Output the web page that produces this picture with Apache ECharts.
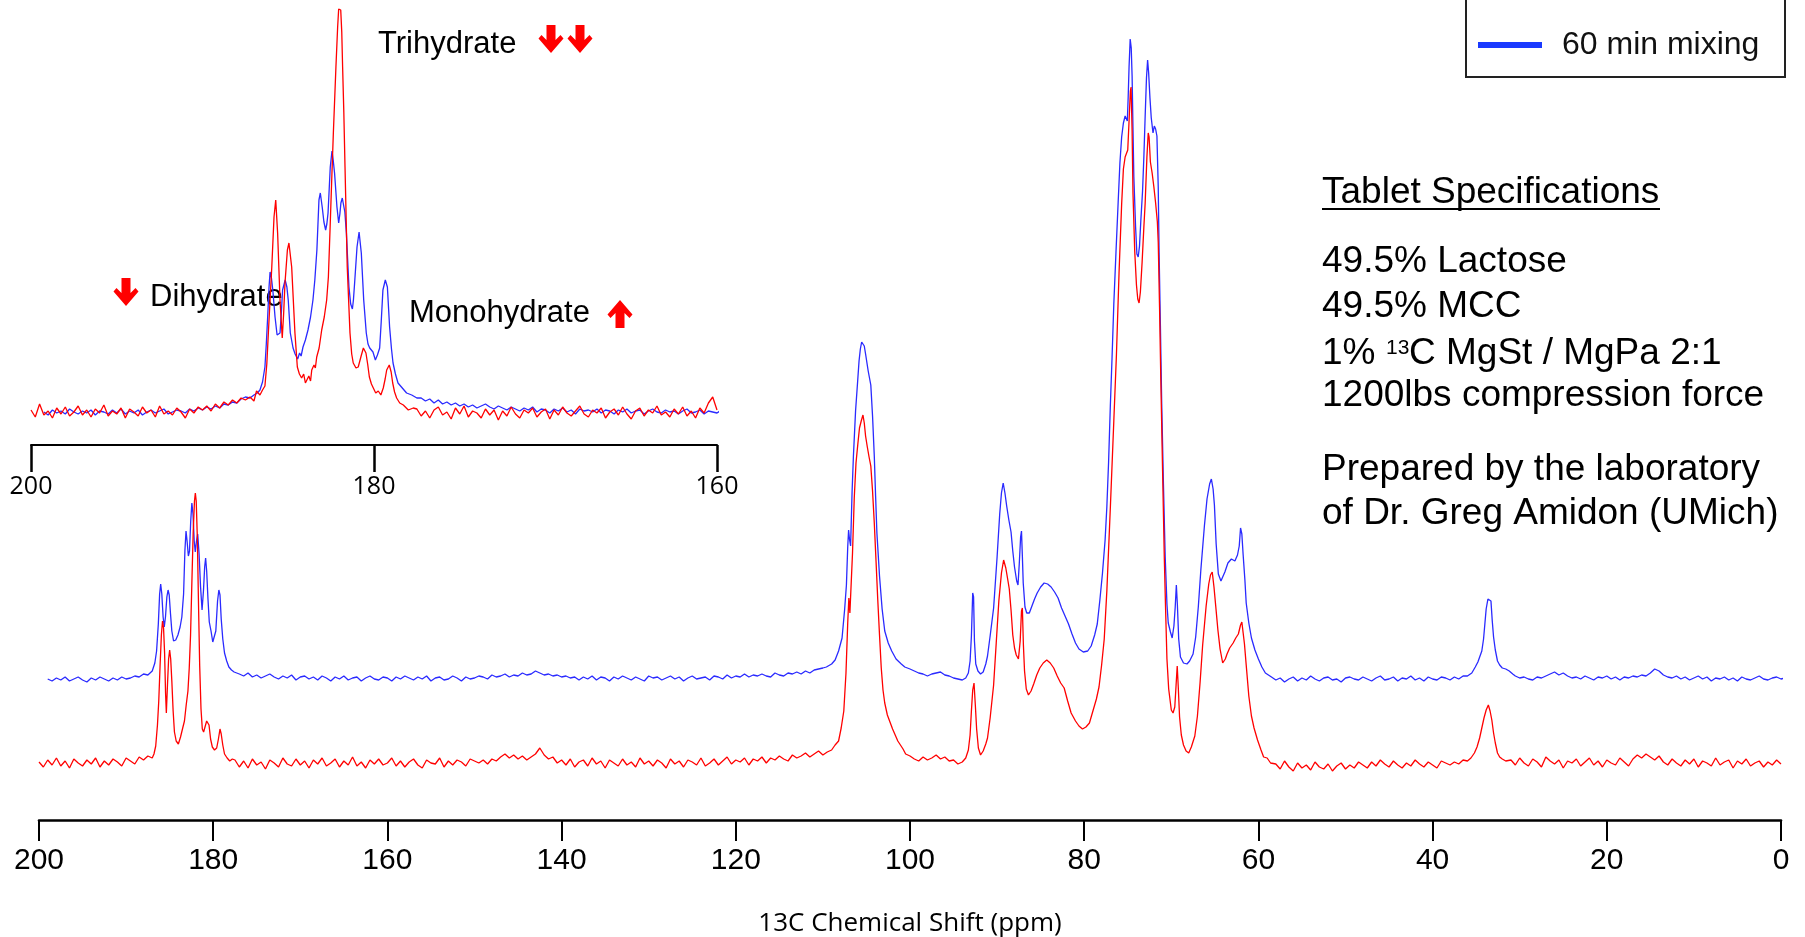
<!DOCTYPE html>
<html>
<head>
<meta charset="utf-8">
<title>13C CPMAS spectra of lactose / MCC tablets</title>
<script src="https://cdn.jsdelivr.net/npm/echarts@6.0.0/dist/echarts.min.js"></script>
<style>
  html, body { margin: 0; padding: 0; background: #ffffff; }
  #chart { width: 1805px; height: 937px; }
</style>
</head>
<body>
<div id="chart"></div>
<script>
// ---------------------------------------------------------------
// Spectrum data. Explicit arrays are [ppm, intensity] pairs;
// "Base" arrays are evenly sampled stretches (start ppm, step) of
// baseline, listed as intensities only.
// ---------------------------------------------------------------

// x-axis tick values (ppm)
const mainTicks = [200, 180, 160, 140, 120, 100, 80, 60, 40, 20, 0];
const insetTicks = [200, 180, 160];

// ---- full spectrum, 0 min (red) ----
const redBaseA = [1,-4,3,-2,5,-3,2,-5,4,0,-3,3,-1,5,-4,2,-2,4,1,-3,5,2,-1,6,3,7,5]; // 200.0 -> 187.0
const redPeakA = [[186.8,9],[186.6,17],[186.4,38],[186.25,62],[186.1,97],[185.95,128],[185.82,142],[185.7,135],[185.58,110],[185.47,70],[185.38,50],[185.25,78],[185.12,104],[185.0,113],[184.88,104],[184.75,82],[184.6,52],[184.45,31],[184.25,22],[184.0,19],[183.75,26],[183.5,35],[183.3,42],[183.1,58],[182.9,72],[182.75,95],[182.6,128],[182.45,180],[182.3,230],[182.15,262],[182.05,270],[181.95,262],[181.82,225],[181.7,165],[181.55,97],[181.4,54],[181.25,34],[181.1,31],[180.9,33],[180.75,42],[180.62,44],[180.48,38],[180.3,24],[180.1,16],[179.85,13],[179.6,15],[179.4,24],[179.22,34],[179.08,29],[178.9,18],[178.7,9],[178.4,5],[178.1,2],[177.8,4]];
const redBaseB = [3,-4,2,-5,4,-2,1,-6,3,0,-4,5,-1,-3,4,-2,
  2,-5,3,-1,5,-3,0,4,-4,2,-2,6,-3,1,-5,3,-1,4,-2,0,
  5,-3,2,-4,1,4,-2,-5,3,0,-1,5,-4,2,-2,3,1,-3,4,2,
  0,3,-1,4,2,6,9,5,8,4,7,3,6,9,15,8,4,6,0,3,
  -2,4,-4,1,3,-3,5,-1,2,-5,3,0,-3,4,-2,1,-4,5,-1,2,
  -3,3,0,-5,4,-1,2,-4,3,1,-2,5,-3,0,4,-2,2,6,-1,3,
  1,5,-2,4,2,6,0,5,3,7,4,2,8,5,7,10,6,9,12,8,
  11,13]; // 177.5 -> 109.0
const redPeakB = [[108.6,18],[108.2,22],[107.9,35],[107.6,52],[107.35,90],[107.15,140],[107.02,165],[106.9,150],[106.78,148],[106.6,210],[106.4,265],[106.2,300],[106.0,318],[105.8,335],[105.6,342],[105.4,348],[105.25,340],[105.1,327],[104.9,316],[104.7,306],[104.5,297],[104.3,272],[104.1,240],[103.9,202],[103.7,163],[103.5,128],[103.3,95],[103.1,73],[102.9,60],[102.6,48],[102.3,41],[102.0,34],[101.7,28],[101.4,22],[101.1,18],[100.8,14],[100.5,9]];
const redBaseC = [7,4,2,6,3,5,8,4,6,2,3,-1,1]; // 100.0 -> 94.0
const redPeakC = [[93.6,5],[93.3,13],[93.1,28],[92.95,52],[92.8,73],[92.65,80],[92.5,58],[92.35,34],[92.15,15],[91.9,8],[91.6,12],[91.3,19],[91.1,25],[90.8,45],[90.4,78],[90.1,120],[89.8,162],[89.5,190],[89.25,203],[89.0,195],[88.75,182],[88.6,174],[88.4,153],[88.2,128],[88.0,115],[87.8,108],[87.55,104],[87.35,122],[87.2,152],[87.1,155],[86.98,118],[86.85,92],[86.65,74],[86.4,68],[86.1,72],[85.8,79],[85.45,88],[85.1,95],[84.7,100],[84.3,103],[83.9,100],[83.5,95],[83.1,87],[82.7,80],[82.3,75],[81.9,62],[81.5,50],[81.0,42],[80.6,37],[80.2,34],[79.8,36],[79.4,40],[79.0,52],[78.6,64],[78.3,76],[78.0,98],[77.7,124],[77.4,172],[77.0,255],[76.6,342],[76.3,408],[76.0,490],[75.7,559],[75.5,594],[75.3,606],[75.15,608],[75.0,613],[74.85,642],[74.7,672],[74.62,676],[74.5,632],[74.4,570],[74.2,512],[74.0,478],[73.85,464],[73.7,460],[73.55,471],[73.35,501],[73.15,536],[73.0,560],[72.8,606],[72.65,630],[72.55,626],[72.4,601],[72.2,590],[72.0,576],[71.8,560],[71.6,541],[71.5,521],[71.35,456],[71.2,382],[71.0,292],[70.8,204],[70.65,152],[70.5,104],[70.3,74],[70.0,53],[69.8,50],[69.6,56],[69.45,78],[69.32,97],[69.2,76],[69.05,46],[68.85,28],[68.6,18],[68.3,12],[68.0,10],[67.7,16],[67.3,27],[67.0,47],[66.7,80],[66.4,118],[66.0,157],[65.7,179],[65.5,188],[65.3,191],[65.1,176],[64.9,157],[64.65,133],[64.4,114],[64.1,100],[63.8,104],[63.6,109],[63.3,115],[62.9,120],[62.6,125],[62.3,129],[62.05,138],[61.9,141],[61.75,130],[61.6,119],[61.4,98],[61.1,67],[60.8,47],[60.5,35],[60.1,23],[59.7,13],[59.4,6],[59.0,5],[58.6,0]];
const redBaseD = [-1,-6,2,-4,-8,0,-5,-2,-7,1,-4,-6,-1,-8,-3,0,-6,-2,-5,1,
  -2,-5,1,-3,3,-1,-4,2,-2,-5,0,-3,3,-1,-4,1,-2,-5,2,0,
  -2,1,-1,3,2]; // 58.0 -> 36.0
const redPeakD = [[35.6,5],[35.2,10],[34.9,16],[34.6,25],[34.4,33],[34.1,45],[33.85,53],[33.6,58],[33.4,52],[33.2,43],[33.0,30],[32.8,20],[32.55,10],[32.3,6],[32.0,4],[31.6,2]];
const redBaseE = [3,-2,5,0,-3,4,1,-4,6,2,-1,3,-5,2,0,4,-3,1,5,-2,
  2,-4,3,0,-2,5,1,-3,4,8,5,9,6,3,7,1,-2,4,0,-3,
  3,-1,4,-4,2,0,-3,5,-2,1,3,-5,2,-1,4,-3,0,2,-4,1,
  -2,3,-1]; // 31.0 -> 0.0

// ---- full spectrum, 60 min mixing (blue), relative to its own baseline ----
const blueBaseA = [0,-2,1,-1,2,-2,0,2,-1,-3,1,-1,2,0,-2,1,-1,2,0,1,3,2,5,4,8]; // 199.0 -> 187.0
const bluePeakA = [[186.7,16],[186.5,28],[186.3,55],[186.15,85],[186.03,95],[185.9,85],[185.75,62],[185.62,52],[185.48,62],[185.32,82],[185.18,89],[185.05,84],[184.9,65],[184.75,48],[184.55,38],[184.3,39],[184.05,44],[183.8,52],[183.6,62],[183.4,85],[183.25,128],[183.12,148],[183.0,138],[182.85,123],[182.72,128],[182.58,158],[182.45,176],[182.32,165],[182.18,138],[182.06,127],[181.92,138],[181.78,145],[181.62,125],[181.45,92],[181.28,69],[181.12,88],[180.98,112],[180.87,121],[180.75,108],[180.6,80],[180.45,57],[180.25,48],[180.05,37],[179.9,35],[179.7,48],[179.5,78],[179.35,89],[179.22,84],[179.08,60],[178.9,40],[178.7,26],[178.45,18],[178.2,12],[177.9,9],[177.6,7]];
const blueBaseB = [5,3,6,2,4,1,3,5,2,0,3,1,4,-1,2,3,0,2,-1,3,
  1,-2,2,0,3,-1,1,2,-2,1,3,0,-1,2,1,-2,2,0,3,1,
  -1,2,0,3,-2,1,2,-1,0,3,1,-2,2,0,1,3,2,0,4,2,
  3,5,2,4,3,6,4,5,8,6,4,5,3,4,2,3,1,2,-1,2,
  0,3,-1,2,1,-2,2,0,3,1,-1,2,0,-2,3,1,2,-1,1,3,
  0,2,-2,1,3,0,1,2,-1,3,2,0,4,1,3,2,5,2,4,3,
  5,3,2,6,4,3,6,5,7,5,8,6,9,10,11]; // 177.0 -> 110.0
const bluePeakB = [[109.6,12],[109.0,15],[108.6,19],[108.2,28],[107.8,41],[107.5,70],[107.3,94],[107.15,132],[107.05,149],[106.95,140],[106.82,133],[106.65,187],[106.5,222],[106.25,268],[106.0,299],[105.85,318],[105.7,330],[105.55,337],[105.4,339],[105.25,333],[105.1,325],[104.8,308],[104.5,294],[104.3,263],[104.1,223],[103.95,183],[103.8,146],[103.5,103],[103.2,70],[102.9,48],[102.5,36],[102.1,28],[101.6,20],[101.0,15],[100.6,12]];
const blueBaseC = [10,8,6,5,3,5,6,7,4,3,1,0,-1]; // 100.0 -> 94.0
const bluePeakC = [[93.6,1],[93.3,6],[93.1,18],[92.95,43],[92.8,86],[92.7,82],[92.6,38],[92.45,15],[92.2,8],[91.9,5],[91.6,7],[91.3,15],[91.1,23],[90.8,43],[90.4,71],[90.0,122],[89.7,165],[89.5,186],[89.3,196],[89.1,186],[88.9,173],[88.65,159],[88.4,147],[88.2,128],[88.0,112],[87.75,98],[87.6,94],[87.45,116],[87.3,142],[87.2,148],[87.1,123],[87.0,96],[86.8,72],[86.6,66],[86.3,66],[86.0,73],[85.7,80],[85.4,86],[85.0,92],[84.6,96],[84.2,95],[83.8,92],[83.4,87],[83.0,81],[82.6,71],[82.2,63],[81.8,55],[81.4,45],[81.0,36],[80.6,30],[80.1,27],[79.6,28],[79.2,33],[78.8,44],[78.5,55],[78.2,79],[77.9,106],[77.6,139],[77.4,172],[77.2,217],[77.0,273],[76.8,322],[76.6,375],[76.35,427],[76.1,477],[75.9,516],[75.7,542],[75.5,556],[75.3,563],[75.15,561],[75.05,558],[74.95,582],[74.85,612],[74.72,640],[74.6,631],[74.5,603],[74.4,551],[74.3,502],[74.1,452],[73.95,425],[73.8,422],[73.65,433],[73.5,458],[73.3,488],[73.15,522],[73.0,563],[72.85,601],[72.72,619],[72.6,606],[72.45,581],[72.3,561],[72.1,546],[71.95,553],[71.8,550],[71.65,543],[71.5,492],[71.4,426],[71.25,353],[71.1,275],[70.9,194],[70.7,122],[70.5,75],[70.35,56],[70.1,47],[69.9,41],[69.7,53],[69.55,72],[69.42,94],[69.3,74],[69.15,40],[68.95,22],[68.6,16],[68.2,15],[67.9,18],[67.5,25],[67.2,42],[66.9,72],[66.6,110],[66.2,153],[65.9,180],[65.6,195],[65.4,200],[65.2,190],[65.05,174],[64.85,135],[64.6,105],[64.3,98],[64.05,103],[63.85,107],[63.5,116],[63.1,120],[62.7,118],[62.4,124],[62.2,133],[62.05,151],[61.9,145],[61.75,124],[61.55,99],[61.4,76],[61.1,56],[60.8,41],[60.4,29],[60.0,20],[59.6,12],[59.2,6]];
const blueBaseD = [2,-1,1,-3,0,2,-2,1,-1,3,0,-2,1,2,-1,0,-3,1,2,0,
  -1,2,0,-2,1,3,-1,0,2,-2,1,0,3,-1,1,-2,2,0,-1,2,
  1,-1,2,0,3,3]; // 58.5 -> 36.0
const bluePeakD = [[35.5,6],[35.1,12],[34.8,17],[34.6,19],[34.35,28],[34.15,40],[34.0,55],[33.85,70],[33.65,80],[33.45,80],[33.3,78],[33.15,58],[33.0,42],[32.8,29],[32.55,18],[32.3,14],[32.0,11],[31.6,10],[31.2,8],[30.8,5]];
const blueBaseE = [3,1,2,0,-1,2,1,3,5,7,4,6,3,1,2,0,3,1,-1,2,
  1,3,0,2,-1,2,1,3,2,4,3,6,10,8,4,2,1,3,0,2,
  -1,1,3,0,2,-2,1,0,2,-1,1,-2,2,0,-1,1,3,0,-1,1,
  2,0,1,2]; // 30.5 -> -1.0

// ---- expanded carbonyl region 200-160 ppm (inset) ----
const insetRedBaseA = [2,-5,8,-3,1,-6,4,-2,5,-4,0,6,-3,2,-5,3,-1,7,-4,1,
  -2,4,-6,3,0,-4,5,-1,2,-5,6,-2,1,-3,4,0,-6,3,-1,5,
  2,6,1,8,4,10,7,12,9,14,12]; // 200.0 -> 187.5
const insetRedPeaks = [[187.23,15],[187.0,11],[186.85,21],[186.65,17],[186.5,22],[186.36,26],[186.25,48],[186.16,79],[186.06,112],[185.96,145],[185.83,195],[185.73,212],[185.62,179],[185.48,112],[185.35,74],[185.27,98],[185.19,129],[185.05,162],[184.96,169],[184.8,145],[184.61,79],[184.47,45],[184.35,38],[184.22,34],[184.1,38],[184.0,29],[183.92,31],[183.8,36],[183.7,31],[183.63,42],[183.5,47],[183.42,44],[183.34,55],[183.2,64],[183.05,82],[182.9,95],[182.76,112],[182.66,135],[182.57,179],[182.47,230],[182.37,279],[182.22,345],[182.12,385],[182.06,403],[181.94,402],[181.88,380],[181.83,345],[181.76,300],[181.69,245],[181.56,145],[181.4,79],[181.3,58],[181.21,49],[181.05,44],[180.92,45],[180.75,56],[180.62,64],[180.47,59],[180.37,48],[180.27,35],[180.15,28],[180.04,24],[179.9,19],[179.75,21],[179.6,17],[179.46,24],[179.35,33],[179.26,42],[179.11,47],[179.0,40],[178.91,29],[178.8,20],[178.68,14],[178.5,9],[178.29,7],[178.0,2],[177.71,4]];
const insetRedBaseB = [3,-4,1,-6,2,5,-3,0,-7,4,-2,6,-5,1,-1,-6,3,-3,2,-8,
  1,-4,5,-2,-6,2,-1,4,-5,0,3,-7,2,-3,5,-1,-4,1,6,-2,
  -5,2,-1,4,-6,0,3,-3,5,-2,-7,1,4,-4,2,-1,6,-3,0,-5,
  3,-2,5,-4,1,-6,4,-1,9,15,2]; // 177.5 -> 160.0
const insetBlueBaseA = [0,-3,2,-1,1,-2,3,0,-2,1,-1,2,-3,1,0,-2,2,-1,3,-2,
  1,-1,2,-3,0,2,-1,1,3,-2,0,2,1,-1,3,1,4,2,5,3,
  6,4,8,7,10,9,13,15]; // 199.25 -> 187.5
const insetBluePeaks = [[187.23,14],[187.0,17],[186.8,19],[186.65,22],[186.5,30],[186.36,45],[186.28,68],[186.2,95],[186.12,125],[186.06,140],[185.98,134],[185.9,122],[185.77,95],[185.65,77],[185.55,76],[185.48,79],[185.4,100],[185.33,122],[185.18,132],[185.08,125],[185.0,112],[184.88,79],[184.72,64],[184.6,58],[184.53,57],[184.45,53],[184.34,59],[184.25,56],[184.14,65],[184.0,72],[183.85,82],[183.7,95],[183.56,112],[183.45,132],[183.33,162],[183.21,212],[183.13,219],[183.02,205],[182.92,190],[182.82,182],[182.75,188],[182.68,199],[182.55,245],[182.45,261],[182.38,252],[182.3,239],[182.16,205],[182.06,189],[181.99,198],[181.93,209],[181.85,214],[181.77,215],[181.7,200],[181.61,179],[181.46,125],[181.36,108],[181.26,103],[181.2,112],[181.13,129],[180.99,165],[180.87,180],[180.74,159],[180.6,112],[180.45,79],[180.35,68],[180.25,64],[180.06,60],[179.92,52],[179.8,57],[179.67,64],[179.58,90],[179.48,122],[179.34,132],[179.22,125],[179.09,85],[178.98,63],[178.89,49],[178.75,38],[178.6,29],[178.35,24],[178.1,19],[177.8,17],[177.5,14]];
const insetBlueBaseB = [14,11,13,9,12,8,10,7,9,6,8,5,7,4,6,8,5,3,6,4,
  2,5,3,1,4,2,5,0,3,2,-1,3,1,4,0,2,-2,3,1,2,
  0,3,-1,2,1,-2,2,0,3,-1,1,2,-2,1,3,0,-1,2,0,1,
  -2,1,3,-1,0,2,-2,1,0,-1,2,-1]; // 177.25 -> 159.5

// vertical stacking of the 60 min trace above the 0 min trace
const BLUE_OFFSET = 84;

// ---------------------------------------------------------------
function sampled(start, step, values) {
  return values.map(function (v, i) {
    return [Math.round((start - i * step) * 100) / 100, v];
  });
}

const redMain = [].concat(
  sampled(200.0, 0.5, redBaseA), redPeakA,
  sampled(177.5, 0.5, redBaseB), redPeakB,
  sampled(100.0, 0.5, redBaseC), redPeakC,
  sampled(58.0, 0.5, redBaseD), redPeakD,
  sampled(31.0, 0.5, redBaseE)
);
const blueMain = [].concat(
  sampled(199.0, 0.5, blueBaseA), bluePeakA,
  sampled(177.0, 0.5, blueBaseB), bluePeakB,
  sampled(100.0, 0.5, blueBaseC), bluePeakC,
  sampled(58.5, 0.5, blueBaseD), bluePeakD,
  sampled(30.5, 0.5, blueBaseE)
).map(function (p) { return [p[0], p[1] + BLUE_OFFSET]; });

const redInset = [].concat(
  sampled(200.0, 0.25, insetRedBaseA), insetRedPeaks, sampled(177.5, 0.25, insetRedBaseB)
);
const blueInset = [].concat(
  sampled(199.25, 0.25, insetBlueBaseA), insetBluePeaks, sampled(177.25, 0.25, insetBlueBaseB)
);

// ---------------------------------------------------------------
const RED = '#ff0000';
const BLUE = '#2a2aff';
const SANS = '"Liberation Sans", Arial, Helvetica, sans-serif';
const HUMANIST = '"Open Sans", "Noto Sans", sans-serif';

function txt(str, x, y, size, extra) {
  const style = {
    text: str, x: 0, y: 0,
    font: size + 'px ' + SANS,
    fill: '#000',
    align: 'left', textAlign: 'left',
    verticalAlign: 'middle', textVerticalAlign: 'middle'
  };
  return Object.assign({ type: 'text', x: x, y: y, silent: true, style: style }, extra || {});
}

// block arrow, dir = 1 points down, -1 points up; (cx, top) is its top centre
function arrow(cx, top, dir) {
  const h = 28;
  const pts = [[-4.5, 0], [4.5, 0], [4.5, 15], [9.5, 10], [12.5, 13.5], [0, 28], [-12.5, 13.5], [-9.5, 10], [-4.5, 15]];
  return {
    type: 'polygon', silent: true,
    shape: { points: pts.map(function (p) {
      return [cx + p[0], dir === 1 ? top + p[1] : top + h - p[1]];
    }) },
    style: { fill: RED }
  };
}

const chart = echarts.init(document.getElementById('chart'), null, { renderer: 'canvas' });

const option = {
  backgroundColor: '#ffffff',
  animation: false,
  grid: [
    { left: 39, right: 24, top: 30, bottom: 117, outerBoundsMode: 'none', containLabel: false },
    { left: 31, right: 1088, top: 0, bottom: 492, outerBoundsMode: 'none', containLabel: false }
  ],
  xAxis: [
    {
      type: 'value', gridIndex: 0, min: 0, max: 200, interval: 20, inverse: true,
      axisLine: { show: true, onZero: false, lineStyle: { color: '#000', width: 2.6 } },
      axisTick: { show: true, inside: false, length: 21, lineStyle: { color: '#000', width: 2 } },
      axisLabel: {
        show: true, margin: 26, color: '#000', fontFamily: SANS, fontSize: 30,
        showMinLabel: true, showMaxLabel: true,
        customValues: mainTicks
      },
      splitLine: { show: false },
      name: '13C Chemical Shift (ppm)', nameLocation: 'middle', nameGap: 91,
      nameTextStyle: { color: '#000', fontFamily: HUMANIST, fontSize: 26 }
    },
    {
      type: 'value', gridIndex: 1, min: 160, max: 200, interval: 20, inverse: true,
      axisLine: { show: true, onZero: false, lineStyle: { color: '#000', width: 2 } },
      axisTick: { show: true, inside: false, length: 27, lineStyle: { color: '#000', width: 2.5 } },
      axisLabel: {
        show: true, margin: 29, color: '#000', fontFamily: HUMANIST, fontSize: 25,
        showMinLabel: true, showMaxLabel: true,
        customValues: insetTicks
      },
      splitLine: { show: false }
    }
  ],
  yAxis: [
    { type: 'value', gridIndex: 0, min: -57, max: 733, show: false, splitLine: { show: false } },
    { type: 'value', gridIndex: 1, min: -33, max: 412, show: false, splitLine: { show: false } }
  ],
  legend: {
    data: ['60 min mixing'],
    left: 1478, top: 29, padding: 0,
    icon: 'rect', itemWidth: 64, itemHeight: 6,
    itemStyle: { color: '#1a3aff' },
    selectedMode: false,
    textStyle: { color: '#111', fontFamily: SANS, fontSize: 32, padding: [0, 0, 0, 15] }
  },
  series: [
    {
      name: '0 min mixing', type: 'line', xAxisIndex: 0, yAxisIndex: 0,
      data: redMain, showSymbol: false, symbol: 'none', clip: false, silent: true,
      lineStyle: { color: RED, width: 1.3 }, itemStyle: { color: RED }, z: 3
    },
    {
      name: '60 min mixing', type: 'line', xAxisIndex: 0, yAxisIndex: 0,
      data: blueMain, showSymbol: false, symbol: 'none', clip: false, silent: true,
      lineStyle: { color: BLUE, width: 1.3 }, itemStyle: { color: BLUE }, z: 2
    },
    {
      name: '60 min mixing (expanded)', type: 'line', xAxisIndex: 1, yAxisIndex: 1,
      data: blueInset, showSymbol: false, symbol: 'none', clip: false, silent: true,
      lineStyle: { color: BLUE, width: 1.3 }, itemStyle: { color: BLUE }, z: 2
    },
    {
      name: '0 min mixing (expanded)', type: 'line', xAxisIndex: 1, yAxisIndex: 1,
      data: redInset, showSymbol: false, symbol: 'none', clip: false, silent: true,
      lineStyle: { color: RED, width: 1.3 }, itemStyle: { color: RED }, z: 3
    }
  ],
  graphic: [
    // legend frame (its upper part runs off the top edge)
    { type: 'rect', silent: true, shape: { x: 1466, y: -10, width: 319, height: 87 },
      style: { fill: 'none', stroke: '#222', lineWidth: 2 } },

    // tablet description
    txt('Tablet Specifications', 1322, 193, 37),
    { type: 'line', silent: true, shape: { x1: 1322, y1: 209, x2: 1660, y2: 209 },
      style: { stroke: '#000', lineWidth: 2 } },
    txt('49.5% Lactose', 1322, 262, 37),
    txt('49.5% MCC', 1322, 307, 37),
    txt('1% ', 1322, 354, 37),
    txt('13', 1386, 348, 21),
    txt('C MgSt / MgPa 2:1', 1409, 354, 37),
    txt('1200lbs compression force', 1322, 396, 37),
    txt('Prepared by the laboratory', 1322, 470, 37),
    txt('of Dr. Greg Amidon (UMich)', 1322, 514, 37),

    // hydrate annotations on the expanded region
    txt('Trihydrate', 378, 44, 31),
    arrow(551, 25, 1),
    arrow(580, 25, 1),
    arrow(126, 278, 1),
    txt('Dihydrate', 150, 297, 31),
    txt('Monohydrate', 409, 313, 31),
    arrow(620, 300, -1)
  ]
};

chart.setOption(option);
</script>
</body>
</html>
